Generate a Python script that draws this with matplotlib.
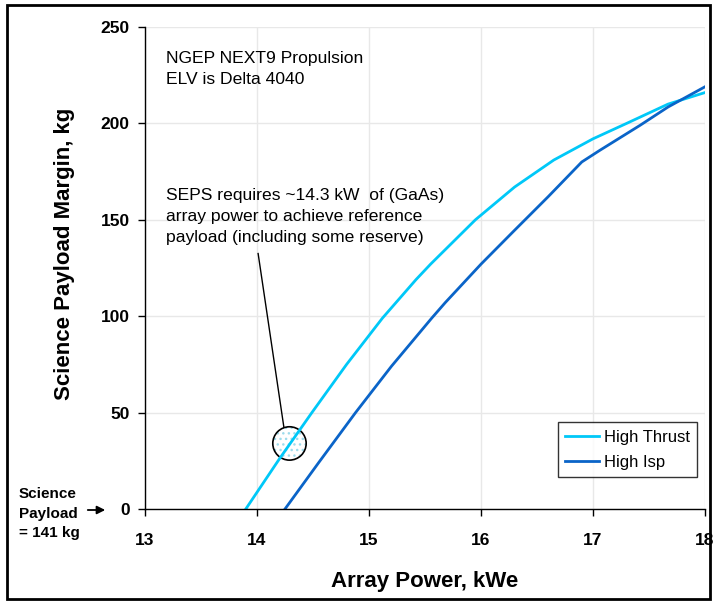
import numpy as np
import matplotlib.pyplot as plt
from matplotlib.patches import Ellipse, Rectangle

# values
thrust_kwe = [13.9, 14.2, 14.49, 14.8, 15.12, 15.42, 15.55, 15.95, 16.3, 16.65, 17.0, 17.3, 17.67, 18.0]
thrust_kg = [0, 26, 50, 75, 99, 119, 127, 150, 167, 181, 192, 200, 210, 216]
isp_kwe = [14.25, 14.55, 14.88, 15.2, 15.56, 15.68, 16.0, 16.29, 16.6, 16.9, 17.06, 17.42, 17.67, 18.0]
isp_kg = [0, 24, 50, 74, 99, 107, 127, 144, 162, 180, 186, 199, 208.5, 219]

x_ticks = [13, 14, 15, 16, 17, 18]
y_ticks = [0, 50, 100, 150, 200, 250]

bold = ['Liberation Sans', 'DejaVu Sans']
regular = ['Liberation Sans', 'DejaVu Sans']

fig = plt.figure(figsize=(7.15, 6.05), dpi=100)
ax = fig.add_axes([145 / 715, 1 - 509 / 605, 560 / 715, 482 / 605])

ax.plot(thrust_kwe, thrust_kg, color='#00C8F8', lw=2, label='High Thrust')
ax.plot(isp_kwe, isp_kg, color='#0A64C8', lw=2, label='High Isp')

ax.set_xlim(13, 18)
ax.set_ylim(0, 250)
ax.set_xticks(x_ticks)
ax.set_yticks(y_ticks)
ax.grid(True, color='#E8E8E8', lw=1)
ax.set_axisbelow(True)
for s in ['top', 'right']:
    ax.spines[s].set_visible(False)
for s in ['left', 'bottom']:
    ax.spines[s].set_linewidth(1)
ax.tick_params(direction='out', length=5, width=1, pad=6)
for lbl in ax.get_xticklabels() + ax.get_yticklabels():
    lbl.set_fontfamily(bold)
    lbl.set_fontweight('bold')
    lbl.set_fontsize(12.5)
ax.tick_params(axis='x', pad=12)

ax.set_xlabel('Array Power, kWe', fontfamily=bold, fontweight='bold',
              fontsize=16, labelpad=17)
ax.set_ylabel('Science Payload Margin, kg', fontfamily=bold, fontweight='bold',
              fontsize=16)
ax.yaxis.set_label_coords(-0.125, 0.53)

ax.text(13.19, 237.5, 'NGEP NEXT9 Propulsion\nELV is Delta 4040', fontfamily=regular,
        fontsize=12.6, va='top', ha='left', linespacing=1.5)
ax.text(13.19, 166.5, 'SEPS requires ~14.3 kW  of (GaAs)\narray power to achieve reference\n'
        'payload (including some reserve)', fontfamily=regular,
        fontsize=12.6, va='top', ha='left', linespacing=1.5)

# circled point with leader line
ax.plot([14.01, 14.24], [132.5, 42.4], color='black', lw=1)
ax.add_patch(Ellipse((14.29, 34), 0.298, 17.3, facecolor='none',
                     edgecolor='#9EDCEC', hatch='...', lw=0))
ax.add_patch(Ellipse((14.29, 34), 0.298, 17.3, facecolor='none',
                     edgecolor='black', lw=1.2))

leg = ax.legend(loc='lower right', bbox_to_anchor=(0.986, 0.066),
                prop={'family': regular, 'size': 12}, frameon=True, fancybox=False,
                handlelength=2.0, borderpad=0.45, labelspacing=0.6, handletextpad=0.3,
                borderaxespad=0)
leg.get_frame().set_edgecolor('black')
leg.get_frame().set_linewidth(1)

fig.text(19 / 715, 1 - 514 / 605, 'Science\nPayload\n= 141 kg', fontfamily=bold,
         fontweight='bold', fontsize=11, va='center', ha='left', linespacing=1.5)
fig.add_artist(plt.Annotation('', xy=(108 / 715, 1 - 510 / 605), xytext=(85 / 715, 1 - 510 / 605),
                              xycoords='figure fraction',
                              arrowprops=dict(arrowstyle='-|>', color='black', lw=1.3,
                                              mutation_scale=12)))

fig.add_artist(Rectangle((7 / 715, 1 - 599 / 605), 703 / 715, 594 / 605,
                         transform=fig.transFigure, fill=False, edgecolor='black', lw=2))

fig.savefig('out.png', dpi=100)
